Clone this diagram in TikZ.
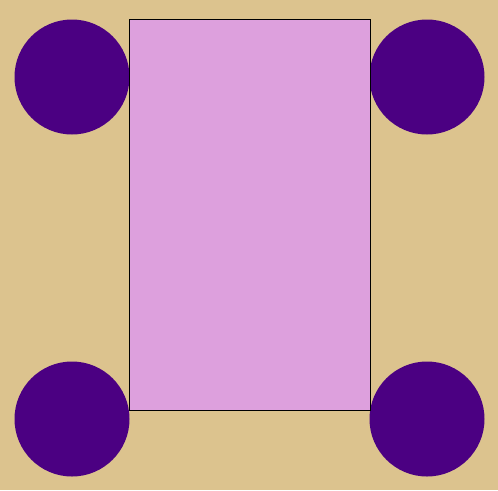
\documentclass[tikz,border=0pt]{standalone}
\usepackage{tikz}
\usetikzlibrary{positioning}
\usepackage[dvipsnames, svgnames]{xcolor}
\definecolor{sand}{HTML}{DCC38E}
\definecolor{bodyplum}{HTML}{DDA0DD}
\definecolor{wheelindigo}{HTML}{4B0082}

\begin{document}
\begin{tikzpicture}[x=1pt,y=-1pt]
    % Background
    \fill[sand] (0,0) rectangle (498,490);
    \useasboundingbox (0,0) rectangle (498,490);

    % Wheels
    \fill[wheelindigo] (72,77) circle (57.5);
    \fill[wheelindigo] (427,77) circle (57.5);
    \fill[wheelindigo] (72,419) circle (57.5);
    \fill[wheelindigo] (427,419) circle (57.5);

    % Body
    \filldraw[fill=bodyplum, draw=black, thin] (129.5,19.5) rectangle (370,410);
\end{tikzpicture}
\end{document}
